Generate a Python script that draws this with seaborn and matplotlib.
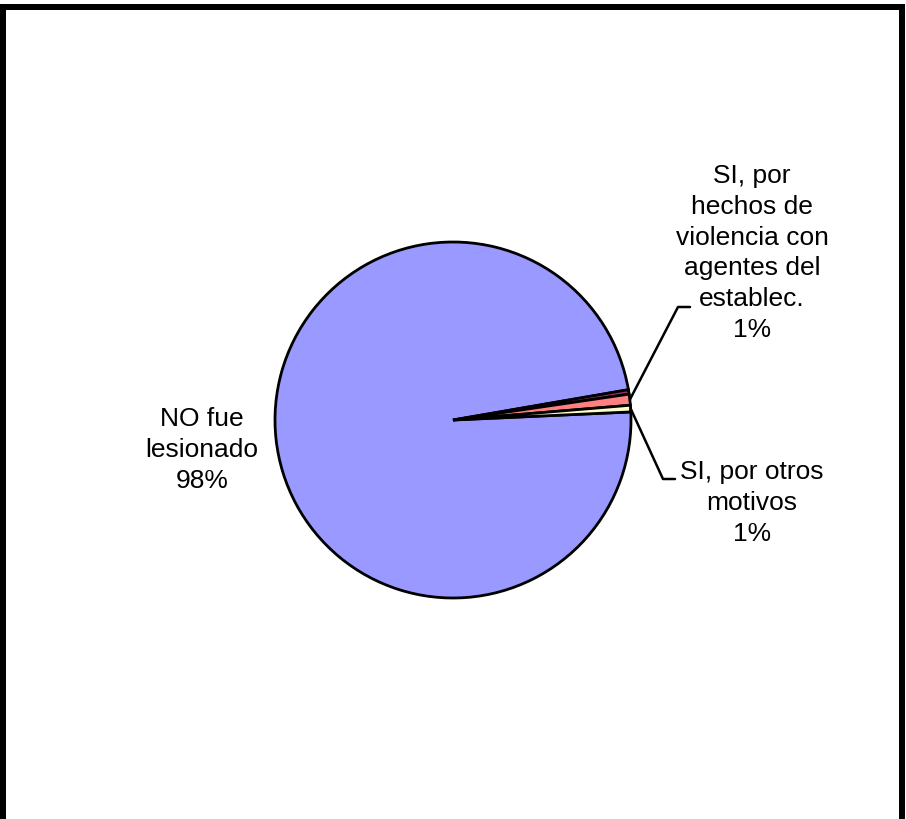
import numpy as np
import matplotlib
matplotlib.use("Agg")
import matplotlib.pyplot as plt
from matplotlib.patches import Rectangle
import seaborn as sns

# ---- data ----
categories = ["NO fue\nlesionado",
              "",
              "SI, por\nhechos de\nviolencia con\nagentes del\nestablec.",
              "SI, por otros\nmotivos"]
values = [98.0, 0.4, 1.0, 0.6]
colors = ["#9999FF", "#993366", "#FF8080", "#FFFFCC"]

sns.set_theme(style="white")
plt.rcParams["font.family"] = ["Liberation Sans", "DejaVu Sans"]

W, H = 906, 820
fig = plt.figure(figsize=(W / 100, H / 100), dpi=100)
ax = fig.add_axes([0, 0, 1, 1])

cx, cy, r = 453, H - 421, 178
wedges, _ = ax.pie(values, colors=sns.color_palette(colors), startangle=2.6,
                   counterclock=False, center=(cx, cy), radius=r,
                   wedgeprops=dict(edgecolor="black", linewidth=2.0),
                   frame=True)
ax.set_xlim(0, W)
ax.set_ylim(0, H)
ax.set_aspect("equal")
ax.axis("off")

total = sum(values)
pct = [f"{round(v / total * 100):.0f}%" for v in values]

fs = 19
ls = 1.36
# main label
ax.text(202, H - 450, categories[0] + "\n" + pct[0], ha="center", va="center",
        fontsize=fs, linespacing=ls, color="black")

# label for salmon slice
w = wedges[2]
ang = np.deg2rad((w.theta1 + w.theta2) / 2)
sx, sy = cx + r * np.cos(ang), cy + r * np.sin(ang)
ax.plot([sx, 678, 690], [sy, H - 308, H - 308], color="black", lw=1.8)
ax.text(752, H - 253, categories[2] + "\n" + pct[2], ha="center", va="center",
        fontsize=fs, linespacing=ls, color="black")

# label for yellow slice
w = wedges[3]
ang = np.deg2rad((w.theta1 + w.theta2) / 2)
sx, sy = cx + r * np.cos(ang), cy + r * np.sin(ang)
ax.plot([sx, 663, 675], [sy, H - 480, H - 480], color="black", lw=1.8)
ax.text(752, H - 503, categories[3] + "\n" + pct[3], ha="center", va="center",
        fontsize=fs, linespacing=ls, color="black")

# outer frame
ax.add_patch(Rectangle((3, -2), 899, 814, fill=False, edgecolor="black",
                       linewidth=6 * 0.72, clip_on=False))

fig.savefig("out.png", dpi=100, facecolor="white")
